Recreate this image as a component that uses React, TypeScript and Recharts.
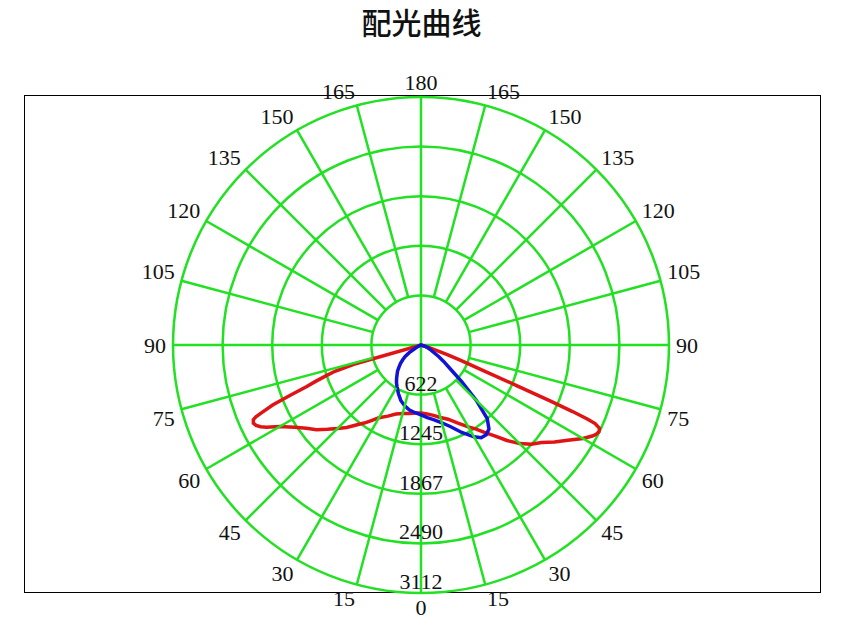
import React from 'react';
import { RadarChart, Radar, PolarGrid, PolarAngleAxis, PolarRadiusAxis } from 'recharts';

// gamma angles (deg from nadir) sampled on the right half of the plot
const rightGamma = [0, 5, 10, 15, 20, 25, 30, 33, 36, 39, 42, 45, 48, 51, 54, 57, 60, 62, 63, 64, 65, 65.7, 66, 66.3, 66.6, 67, 67.7, 69, 70, 72, 75, 90, 120, 150, 180];
const rightRed = [853, 868, 897, 941, 991, 1079, 1186, 1255, 1355, 1468, 1612, 1750, 1863, 1945, 2070, 2196, 2346, 2434, 2466, 2484, 2472, 2397, 2284, 2070, 1757, 1318, 853, 527, 351, 100, 0, 0, 0, 0, 0];
const rightBlue = [878, 916, 954, 1010, 1092, 1211, 1330, 1387, 1393, 1355, 1242, 979, 690, 464, 351, 264, 176, 151, 138, 126, 119, 113, 113, 107, 107, 100, 94, 88, 75, 50, 0, 0, 0, 0, 0];

// gamma angles sampled on the left half (0 and 180 are shared with the right half)
const leftGamma = [5, 10, 15, 20, 25, 30, 33, 36, 39, 42, 45, 48, 51, 54, 57, 60, 62, 63, 64, 65, 66, 66.5, 67, 68, 69, 70, 71, 72, 73, 74, 75, 90, 120, 150];
const leftRed = [857, 872, 891, 922, 985, 1054, 1129, 1211, 1292, 1393, 1481, 1581, 1688, 1776, 1895, 2045, 2196, 2259, 2303, 2321, 2303, 2259, 2171, 2008, 1757, 1531, 1393, 1255, 1129, 878, 0, 0, 0, 0];
const leftBlue = [853, 828, 791, 740, 671, 602, 565, 521, 477, 439, 389, 345, 295, 245, 176, 88, 50, 38, 25, 13, 0, 0, 0, 0, 0, 0, 0, 0, 0, 0, 0, 0, 0, 0];

const angleTicks = [0, 15, 30, 45, 60, 75, 90, 105, 120, 135, 150, 165, 180, 195, 210, 225, 240, 255, 270, 285, 300, 315, 330, 345];
const ringTicks = [622.4, 1244.8, 1867.2, 2489.6, 3112];
const axisGammas = [0, 90, 180, 270];
const MAX_CD = 3112;

const CX = 413;
const CY = 337;
const R = 248;
const START = -90;
const GREEN = '#22e022';

const rows = [
  ...rightGamma.map((g, i) => ({ angle: g, c0: rightRed[i], c90: rightBlue[i] })),
  ...leftGamma
    .map((g, i) => ({ angle: 360 - g, c0: leftRed[i], c90: leftBlue[i] }))
    .reverse(),
];

function polar(angle: number, r: number) {
  const rad = (-angle * Math.PI) / 180;
  return { x: CX + r * Math.cos(rad), y: CY + r * Math.sin(rad) };
}

const labelFont = { fontFamily: '"Liberation Serif", serif', fontSize: 22, fill: '#111' };

function AngleTick(props: any) {
  const { payload } = props;
  const a = payload.coordinate;
  const g = payload.value;
  const label = g <= 180 ? g : 360 - g;
  const r1 = (R * ringTicks[0]) / MAX_CD;
  const p1 = polar(a, r1);
  const p2 = polar(a, R);
  // label box corner sits just outside the outer ring
  const pt = polar(a, 255);
  const dx = pt.x - CX;
  const dy = pt.y - CY;
  const anchor = Math.abs(dx) < 1 ? 'middle' : dx < 0 ? 'end' : 'start';
  const yOff = Math.abs(dy) < 1 ? 0 : dy < 0 ? -7.5 : 7.5;
  return (
    <g>
      {g % 90 !== 0 && (
        <line x1={p1.x} y1={p1.y} x2={p2.x} y2={p2.y} stroke={GREEN} strokeWidth={2.5} />
      )}
      <text x={pt.x} y={pt.y + yOff} textAnchor={anchor} dominantBaseline="central" {...labelFont}>
        {label}
      </text>
    </g>
  );
}

function RadiusTick(props: any) {
  const { x, y, payload } = props;
  return (
    <text x={x} y={y - 11.5} textAnchor="middle" dominantBaseline="central" {...labelFont}>
      {Math.round(payload.value)}
    </text>
  );
}

export default function App() {
  return (
    <div style={{ position: 'relative', width: 841, height: 626 }}>
      <div
        style={{
          position: 'absolute',
          left: 0,
          top: -2,
          width: 827,
          textAlign: 'center',
          fontFamily: '"Noto Sans CJK SC", sans-serif',
          fontSize: 30,
          fontWeight: 500,
          lineHeight: '30px',
          color: '#111',
        }}
      >
        配光曲线
      </div>
      <div
        style={{
          position: 'absolute',
          left: 16,
          top: 87,
          width: 797,
          height: 498,
          border: '1px solid #000',
          boxSizing: 'border-box',
        }}
      />
      <div style={{ position: 'absolute', left: 0, top: 0 }}>
        <RadarChart
          width={841}
          height={626}
          cx={CX}
          cy={CY}
          outerRadius={R}
          startAngle={START}
          endAngle={START + 360}
          data={rows}
          margin={{ top: 0, right: 0, bottom: 0, left: 0 }}
        >
          <PolarGrid
            gridType="circle"
            stroke={GREEN}
            strokeWidth={2.5}
            polarAngles={axisGammas.map((g) => START + g)}
          />
          <PolarAngleAxis
            dataKey="angle"
            type="number"
            domain={[0, 360]}
            ticks={angleTicks}
            tick={<AngleTick />}
            tickLine={false}
            axisLine={false}
          />
          <PolarRadiusAxis
            type="number"
            domain={[0, MAX_CD]}
            ticks={ringTicks}
            angle={START}
            tick={<RadiusTick />}
            tickLine={false}
            axisLine={false}
          />
          <Radar
            dataKey="c0"
            stroke="#e01414"
            strokeWidth={3.5}
            fill="none"
            fillOpacity={0}
            dot={false}
            isAnimationActive={false}
          />
          <Radar
            dataKey="c90"
            stroke="#1212d6"
            strokeWidth={3.5}
            fill="none"
            fillOpacity={0}
            dot={false}
            isAnimationActive={false}
          />
        </RadarChart>
      </div>
    </div>
  );
}
